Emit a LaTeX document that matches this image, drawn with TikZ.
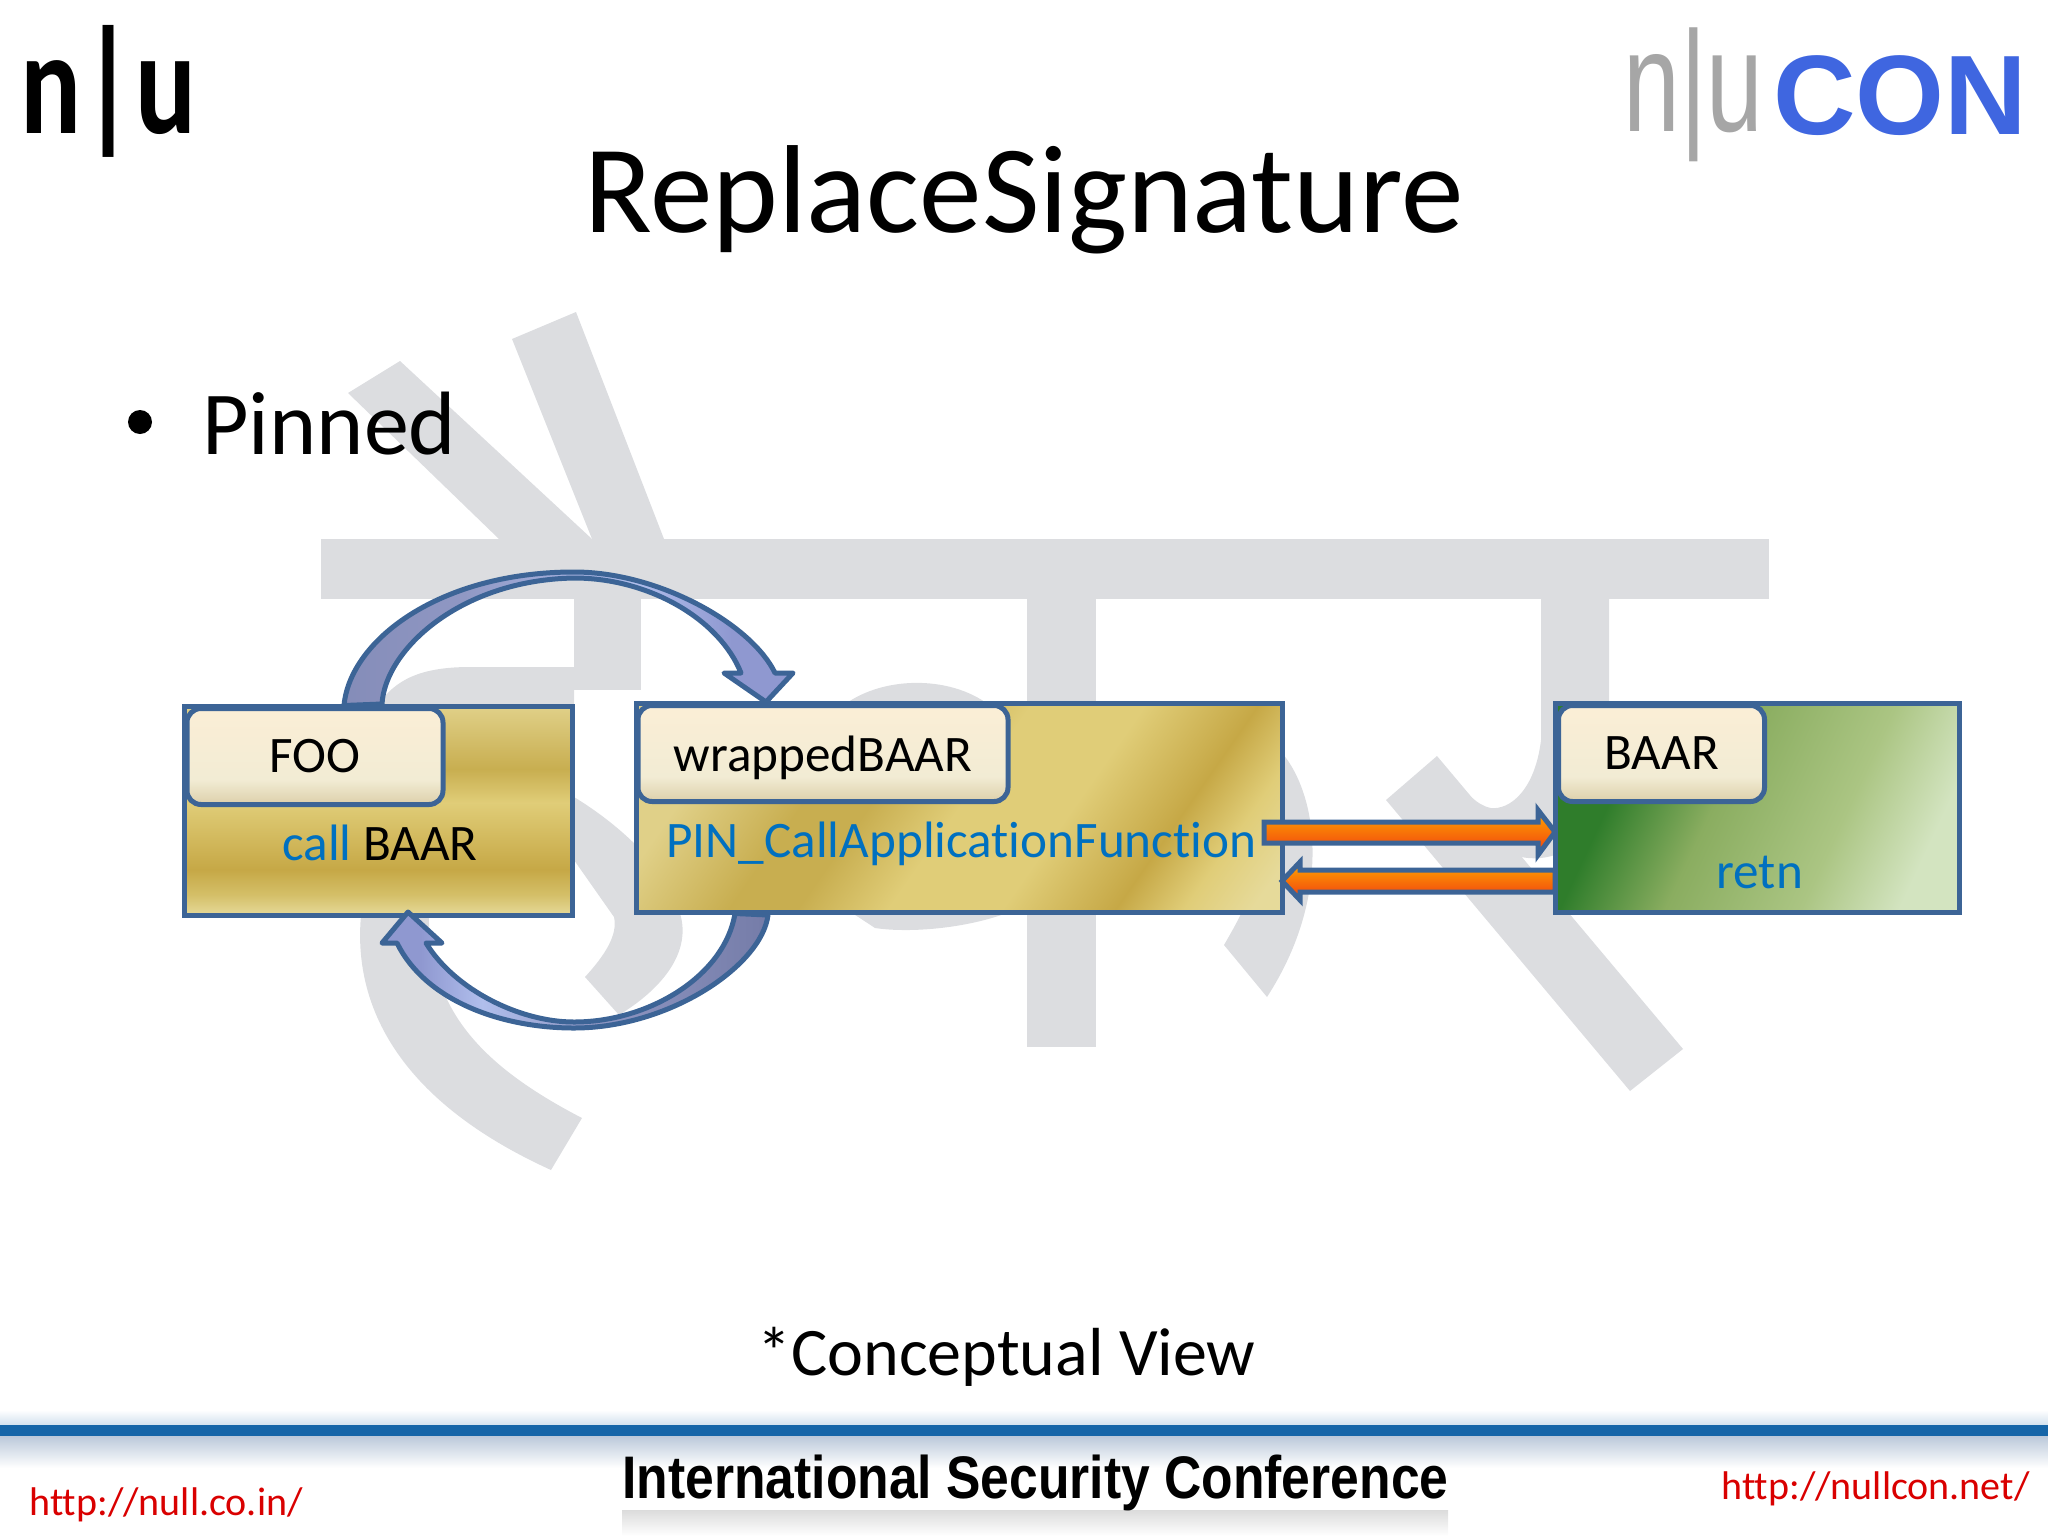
\documentclass[tikz,border=0pt]{standalone}
\usepackage{fontspec}
\usepackage{graphicx}
\usepackage{xcolor}
\usetikzlibrary{calc,positioning}
\setmainfont{Carlito}[Ligatures=NoCommon]
\newfontfamily\logofont{Liberation Sans}
\definecolor{boxline}{HTML}{3C6496}
\definecolor{inkblue}{HTML}{0070C0}
\definecolor{markgray}{HTML}{DCDDE0}
\definecolor{footblue}{HTML}{1565A8}
\definecolor{conblue}{HTML}{3F66E0}
\definecolor{goldA}{HTML}{E6DA9A}
\definecolor{goldB}{HTML}{D4BF68}
\definecolor{goldC}{HTML}{C6A846}
\definecolor{goldD}{HTML}{E0CD78}
\definecolor{goldE}{HTML}{C8AE50}
\definecolor{goldF}{HTML}{E0D088}
\definecolor{creamA}{HTML}{FBEED6}
\definecolor{creamB}{HTML}{F2ECD4}
\definecolor{creamC}{HTML}{DCCFAA}
\definecolor{leafA}{HTML}{2F7D2B}
\definecolor{leafB}{HTML}{8AAD60}
\definecolor{leafC}{HTML}{ABC583}
\definecolor{leafD}{HTML}{D3E4C0}
\definecolor{hopA}{HTML}{757CA8}
\definecolor{hopB}{HTML}{9098C4}
\definecolor{hopC}{HTML}{B0BEEC}
\definecolor{hopD}{HTML}{8F98D0}
\definecolor{flowA}{HTML}{FFA800}
\definecolor{flowB}{HTML}{F03C10}
\pgfdeclareverticalshading{foogold}{100bp}{color(0bp)=(goldA); color(25bp)=(goldA); color(30bp)=(goldB); color(36bp)=(goldC); color(52bp)=(goldD); color(60bp)=(goldE); color(75bp)=(goldF); color(100bp)=(goldF)}
\pgfdeclarehorizontalshading{wrapgold}{100bp}{color(0bp)=(goldF); color(25bp)=(goldF); color(36bp)=(goldE); color(42bp)=(goldE); color(50bp)=(goldD); color(60bp)=(goldD); color(70bp)=(goldC); color(76bp)=(goldD); color(82bp)=(goldA); color(100bp)=(goldA)}
\pgfdeclareverticalshading{labelcream}{100bp}{color(0bp)=(creamC); color(25bp)=(creamC); color(38bp)=(creamB); color(75bp)=(creamA); color(100bp)=(creamA)}
\pgfdeclarehorizontalshading{baargreen}{100bp}{color(0bp)=(leafA); color(25bp)=(leafA); color(30bp)=(leafA); color(44bp)=(leafB); color(62bp)=(leafC); color(75bp)=(leafD); color(100bp)=(leafD)}
\pgfdeclarehorizontalshading{hopblue}{100bp}{color(0bp)=(hopA); color(25bp)=(hopA); color(48bp)=(hopB); color(62bp)=(hopC); color(70bp)=(hopD); color(100bp)=(hopD)}

\begin{document}
\begin{tikzpicture}[x=0.5pt,y=-0.5pt,
    wmark/.style={fill=markgray,draw=none},
    codebox/.style={draw=boxline,line width=2.5pt,inner sep=0pt,outer sep=0pt,minimum height=104.5pt},
    namebox/.style={draw=boxline,line width=2.5pt,rounded corners=7pt,shading=labelcream,inner sep=0pt,outer sep=0pt,
        minimum height=48pt,font=\fontsize{25.6}{30}\selectfont,anchor=north west},
    codetext/.style={inner sep=0pt,anchor=base west,font=\fontsize{25.6}{30}\selectfont,text=inkblue},
    hoparrow/.style={draw=boxline,line width=2.5pt,line join=round,shading=hopblue},
    flowarrow/.style={draw=boxline,line width=2.5pt,line join=miter,top color=flowA,bottom color=flowB},
    urltext/.style={inner sep=0pt,anchor=base west,font=\fontsize{20}{24}\selectfont,text=red!85!black}]
\useasboundingbox (0,0) rectangle (2048,1536);
% watermark
\fill[wmark] (321,539) rectangle (1769,599);
\fill[wmark] (1027,599) rectangle (1096,1047);
\fill[wmark] (574,599) rectangle (641,690);
\fill[wmark] (576,312) -- (512,339) -- (592,539) -- (664,539) -- cycle;
\fill[wmark] (400,361) -- (348,393) -- (499,539) -- (592,539) -- cycle;
\fill[wmark] (378,705) .. controls (395,680) and (420,667) .. (470,667) -- (574,667) -- (574,797)
    .. controls (620,825) and (670,870) .. (681,917) .. controls (690,955) and (660,990) .. (619,1015)
    -- (585,977) .. controls (605,955) and (618,935) .. (614,917) -- (574,860) -- (378,860) -- cycle;
\fill[wmark] (363,900) .. controls (350,980) and (375,1090) .. (551,1170) -- (582,1118)
    .. controls (470,1060) and (425,1000) .. (429,900) -- cycle;
\fill[wmark] (840,708) .. controls (880,675) and (950,675) .. (989,705) -- (1283,754)
    .. controls (1320,800) and (1330,900) .. (1267,997) -- (1224,945) .. controls (1250,900) and (1260,880) .. (1240,840)
    -- (1060,880) .. controls (1020,925) and (920,935) .. (875,928) -- (840,905) -- cycle;
\fill[wmark] (1541,599) -- (1541,740) .. controls (1535,790) and (1510,810) .. (1491,808) .. controls (1475,805) and (1465,790) .. (1455,778)
    -- (1480,840) .. controls (1560,890) and (1609,830) .. (1609,750) -- (1609,599) -- cycle;
\fill[wmark] (1386,800) -- (1437,756) -- (1683,1049) -- (1630,1091) -- cycle;
% footer band
\shade[top color=white,bottom color=footblue!18] (0,1410) rectangle (2048,1424);
\shade[top color=boxline!35,bottom color=white] (0,1436) rectangle (2048,1468);
\fill[footblue] (0,1425) rectangle (2048,1436);
\shade[top color=black!14,bottom color=white] (622,1510) rectangle (1448,1536);
% boxes
\node[codebox,shading=foogold,minimum width=194pt] (foobox) at (378,811) {};
\node[codebox,shading=wrapgold,shading angle=-35,minimum width=323pt] (wrapbox) at (959,808) {};
\node[codebox,shading=baargreen,shading angle=-25,minimum width=202pt] (baarbox) at (1757.5,808) {};
\node[namebox,minimum width=128pt] (fooname) at ($(foobox.north west)+(3,2)$) {FOO};
\node[namebox,minimum width=185pt,text depth=0pt] (wrapname) at ($(wrapbox.north west)+(2,2)$) {wrappedBAAR};
\node[namebox,minimum width=103pt] (baarname) at ($(baarbox.north west)+(3,2)$) {BAAR};
\node[codetext] (foocall) at (282,860) {call \textcolor{black}{BAAR}};
\node[codetext] (wrapcall) at (666,857) {PIN\_CallApplicationFunction};
\node[codetext] (baarret) at (1716,888) {retn};
% arrows
\coordinate (hoptip) at (766,702);
\coordinate (backtip) at (408,912);
\coordinate (calltip) at (1555,832);
\coordinate (callfrom) at (1264,832);
\coordinate (rettip) at (1282,881);
\coordinate (retfrom) at (1555,881);
\draw[hoparrow]
    (foobox.north west) ++(160,-1) .. controls (350,640) and (440,572) .. (574,572)
    .. controls (660,572) and (752,625) .. (775,673) -- (793,673) -- (hoptip) -- (724,673) -- (741,673)
    .. controls (720,620) and (650,578) .. (574,578) .. controls (460,580) and (385,650) .. (382,704) -- cycle;
\draw[hoparrow,shading angle=180]
    (wrapbox.south west) ++(99,1) .. controls (725,975) and (650,1022) .. (574,1022)
    .. controls (520,1022) and (455,990) .. (426,943) -- (442,943) -- (backtip) -- (382,943) -- (397,943)
    .. controls (425,1000) and (500,1028) .. (574,1028) .. controls (670,1028) and (762,965) .. (768,915) -- cycle;
\draw[flowarrow] (callfrom) ++(0,-10) -- ++(274,0) -- ++(0,-12) -- (calltip) -- ++(-17,23) -- ++(0,-12) -- ++(-274,0) -- cycle;
\draw[flowarrow] (retfrom) ++(0,-11) -- ++(-255,0) -- ++(0,-8) -- (rettip) -- ++(18,19) -- ++(0,-8) -- ++(255,0) -- cycle;
% texts
\node[inner sep=0pt,anchor=base,font=\fontsize{62.6}{70}\selectfont] (title) at (1024,232) {ReplaceSignature};
\node[inner sep=0pt,anchor=base west,font=\fontsize{45}{50}\selectfont] (pinned) at (202,454) {Pinned};
\node[circle,fill=black,inner sep=0pt,minimum size=12pt] (bullet) at (140,422) {};
\node[inner sep=0pt,anchor=base west,font=\fontsize{34}{40}\selectfont] (concept) at (757,1375) {*Conceptual View};
\node[urltext] (urlnull) at (29,1515) {http://null.co.in/};
\node[urltext] (urlcon) at (1721,1499) {http://nullcon.net/};
\node[inner sep=0pt,anchor=north west] (confname) at (622,1455) {\resizebox*{413pt}{28pt}{\logofont\bfseries International Security Conference}};
% logos
\node[inner sep=0pt,anchor=north west] (nulogo) at (20,25) {\resizebox*{88pt}{66pt}{\bfseries n|u}};
\node[inner sep=0pt,anchor=north west,text=black!35] (nuconleft) at (1623,27) {\resizebox*{70pt}{67pt}{\logofont n|u}};
\node[inner sep=0pt,anchor=north west,text=conblue] (nuconright) at (1773,55) {\resizebox*{127pt}{40pt}{\logofont\bfseries CON}};
\end{tikzpicture}
\end{document}
